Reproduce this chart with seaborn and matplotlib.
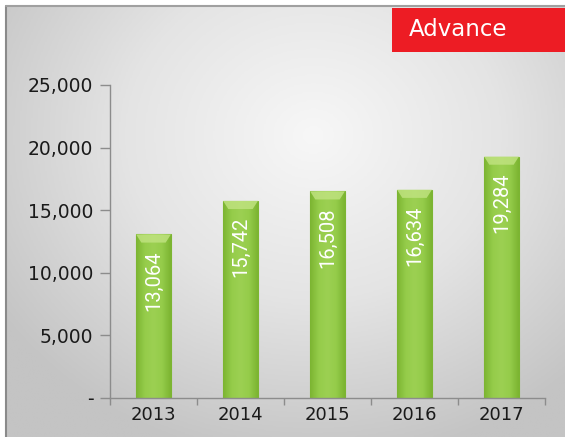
import numpy as np
import pandas as pd
import seaborn as sns
from matplotlib import pyplot as plt
from matplotlib.colors import LinearSegmentedColormap
from matplotlib.patches import Rectangle, Polygon

years = ['2013', '2014', '2015', '2016', '2017']
values = [13064, 15742, 16508, 16634, 19284]
y_ticks = [0, 5000, 10000, 15000, 20000, 25000]
badge_text = 'Advance'

df = pd.DataFrame({'year': years, 'value': values})

sns.set_style('white')
plt.rcParams['font.family'] = ['DejaVu Sans']

fig = plt.figure(figsize=(5.65, 4.37), dpi=100)
fig.patch.set_facecolor('white')

# grey radial backdrop with a thin frame on the left and top
bg = fig.add_axes([6 / 565, 0, 1 - 6 / 565, 1 - 6 / 437], zorder=0)
bg.axis('off')
yy, xx = np.mgrid[0:1:300j, 0:1:400j]
r = np.sqrt(((xx - 0.55) / 0.75) ** 2 + ((yy - 0.3) / 0.85) ** 2)
grey = LinearSegmentedColormap.from_list('g', ['#f7f7f7', '#e4e4e4', '#c4c4c4'])
bg.imshow(r, cmap=grey, aspect='auto', extent=[0, 1, 0, 1], origin='upper', vmin=0, vmax=0.9)
bg.set_xlim(0, 1)
bg.set_ylim(0, 1)
bg.plot([0, 0], [0, 1], color='#8a8a8a', lw=1.5, transform=bg.transAxes, clip_on=False)
bg.plot([0, 1], [1, 1], color='#a0a0a0', lw=1.5, transform=bg.transAxes, clip_on=False)

ax = fig.add_axes([110 / 565, 1 - 398 / 437, 435 / 565, 313 / 437], zorder=2)
ax.patch.set_alpha(0)
sns.barplot(data=df, x='year', y='value', color='#8cc63f', width=0.4,
            saturation=1, ax=ax, edgecolor='#7cb532', linewidth=0.8)

shade = LinearSegmentedColormap.from_list('b', ['#7cb532', '#95cc4a', '#9cd052', '#95cc4a', '#7cb532'])
ax.set_ylim(0, 25000)
ax.set_xlim(-0.5, 4.5)
for patch, v in zip(ax.patches, values):
    x0, w, h = patch.get_x(), patch.get_width(), patch.get_height()
    im = ax.imshow(np.linspace(0, 1, 50).reshape(1, -1), cmap=shade, aspect='auto',
                   extent=[x0, x0 + w, 0, h], zorder=2.1)
    im.set_clip_path(patch)
    cap = Polygon([[x0, h], [x0 + w, h], [x0 + w * 0.85, h - 650], [x0 + w * 0.15, h - 650]],
                  closed=True, facecolor='#bfe27f', edgecolor='none', alpha=0.85, zorder=2.2)
    ax.add_patch(cap)
    ax.annotate(f'{v:,}', (x0 + w / 2, h), xytext=(0, -16), textcoords='offset pixels',
                rotation=90, ha='center', va='top', color='white', fontsize=14.5,
                family=['Roboto', 'DejaVu Sans'], fontweight='normal', zorder=3)

ax.set_xlim(-0.5, 4.5)
ax.set_ylim(0, 25000)
ax.set_yticks(y_ticks)
ax.set_yticklabels(['-' if t == 0 else f'{t:,}' for t in y_ticks])
ax.set_xticks(np.arange(-0.5, len(years), 1), minor=True)
ax.set_xlabel('')
ax.set_ylabel('')
for s in ['top', 'right']:
    ax.spines[s].set_visible(False)
for s in ['left', 'bottom']:
    ax.spines[s].set_color('#8c8c8c')
    ax.spines[s].set_linewidth(1.0)
ax.tick_params(axis='y', length=7, width=1, color='#8c8c8c', pad=5, labelsize=13.5, labelcolor='#1a1a1a', left=True)
ax.tick_params(axis='x', which='major', length=0, pad=6, labelsize=13, labelcolor='#1a1a1a')
ax.tick_params(axis='x', which='minor', length=5, width=1, color='#8c8c8c', direction='out', bottom=True)

# red badge in the top right corner
fig.patches.append(Rectangle((392 / 565, 1 - 52 / 437), 1 - 392 / 565, 44 / 437,
                             transform=fig.transFigure, facecolor='#ed1c24', edgecolor='none', zorder=5))
fig.text(409 / 565, 1 - 30 / 437, badge_text, color='white', fontsize=16.5, ha='left', va='center', zorder=6)

fig.savefig('out.png', dpi=100)
